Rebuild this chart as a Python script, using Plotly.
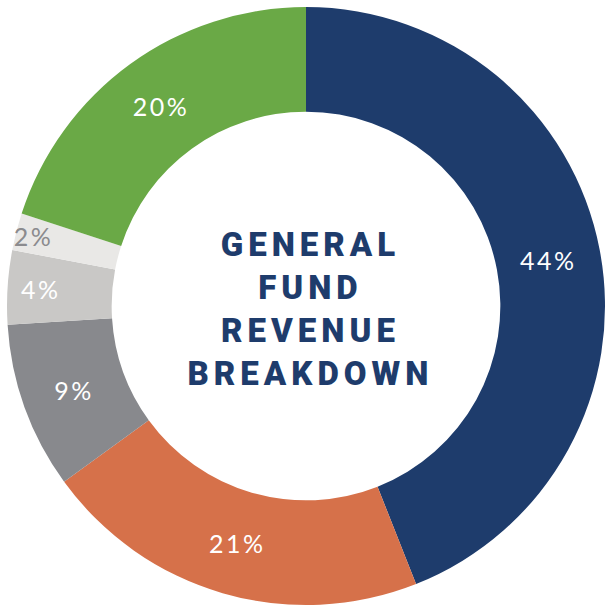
import plotly.graph_objects as go

categories = ["Navy", "Orange", "Gray", "Light Gray", "Lightest Gray", "Green"]
values = [44, 21, 9, 4, 2, 20]
colors = ["#1e3c6c", "#d6714a", "#88898d", "#c9c8c6", "#e9e8e6", "#6aa946"]
text_colors = ["#ffffff", "#ffffff", "#ffffff", "#ffffff", "#8b8b8e", "#ffffff"]
center_title = ["GENERAL", "FUND", "REVENUE", "BREAKDOWN"]

W, H = 605, 606
cx, cy, r = 306, 306, 299

fig = go.Figure(go.Pie(
    labels=categories,
    values=values,
    sort=False,
    direction="clockwise",
    rotation=0,
    hole=0.65,
    marker=dict(colors=colors, line=dict(width=0)),
    texttemplate="%{value}%",
    textposition="inside",
    insidetextorientation="horizontal",
    textfont=dict(family="Lato", size=25, color=text_colors),
    showlegend=False,
    hoverinfo="label+value",
    domain=dict(x=[(cx - r) / W, (cx + r) / W], y=[(H - cy - r) / H, (H - cy + r) / H]),
))

fig.add_annotation(
    x=0.513, y=0.49, xref="paper", yref="paper",
    text="<br>".join(center_title),
    showarrow=False,
    align="center",
    font=dict(family="Roboto", size=33, color="#1e3c6c", weight=900),
)

fig.update_layout(
    width=W, height=H,
    margin=dict(l=0, r=0, t=0, b=0),
    paper_bgcolor="white",
    plot_bgcolor="white",
    uniformtext=dict(minsize=25, mode="show"),
)

post = """
document.body.style.margin='0';
document.body.style.overflow='hidden';
document.querySelectorAll('.slicetext').forEach(function(e){e.style.letterSpacing='2.5px';});
document.querySelectorAll('.annotation-text').forEach(function(e){e.style.letterSpacing='5px';});
"""
fig.write_html("out.html", post_script=post, config={"displayModeBar": False})
